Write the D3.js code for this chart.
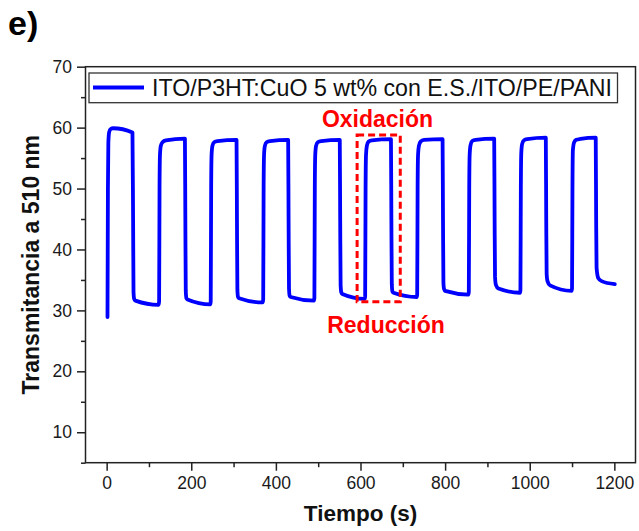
<!DOCTYPE html>
<html>
<head>
<meta charset="utf-8">
<script src="https://cdn.jsdelivr.net/npm/d3@7"></script>
<style>
  html, body { margin: 0; padding: 0; background: #fff; }
  svg { display: block; }
  text { font-family: Arial, "Liberation Sans", sans-serif; }
</style>
</head>
<body>
<svg id="chart" width="639" height="531"></svg>
<script>
// ---- Data ----
const seriesName = "ITO/P3HT:CuO 5 wt% con E.S./ITO/PE/PANI";
const timeS = [
  2, 3, 4, 6, 10, 15, 61,
  62.5, 63.5, 65, 68, 123,
  124, 125, 126, 128, 132, 140, 185,
  186, 187, 188.5, 191, 245,
  246, 247, 248, 250, 254, 262, 307,
  308, 309, 310.5, 313, 369,
  370, 371, 372, 374, 378, 386, 429,
  430, 431, 432.5, 435, 490,
  491, 492, 493, 495, 499, 507, 551,
  552, 553, 554.5, 557, 610,
  611, 612, 613, 615, 619, 627, 672,
  673, 674, 675.5, 678, 733,
  734, 735, 736, 738, 742, 750, 794,
  795, 796, 797.5, 800, 855,
  856, 857, 858, 860, 864, 872, 916,
  917, 918, 920, 926, 977,
  978, 979, 980, 982, 986, 994, 1038,
  1039, 1040, 1042, 1048, 1099,
  1100, 1101, 1102, 1105, 1110, 1120, 1156,
  1157, 1158, 1162, 1170, 1201
];
const transmittance = [
  28.9, 50.0, 57.5, 59.3, 59.8, 59.9, 59.2,
  45.0, 33.0, 31.9, 31.6, 30.9,
  31.5, 50.0, 55.5, 57.0, 57.6, 57.9, 58.2,
  45.0, 33.2, 32.0, 31.8, 31.0,
  31.5, 50.0, 55.5, 57.0, 57.6, 57.8, 58.0,
  45.0, 33.4, 32.2, 32.0, 31.3,
  31.8, 50.0, 55.5, 57.0, 57.6, 57.8, 58.0,
  45.0, 33.6, 32.4, 32.2, 31.6,
  32.0, 50.0, 55.5, 57.0, 57.6, 57.8, 58.0,
  45.0, 34.2, 33.0, 32.7, 31.9,
  32.3, 50.0, 55.5, 57.0, 57.7, 57.9, 58.1,
  45.0, 34.3, 33.1, 32.9, 32.2,
  32.6, 50.0, 55.5, 57.0, 57.7, 58.0, 58.1,
  45.0, 34.6, 33.5, 33.2, 32.6,
  33.0, 50.0, 55.5, 57.1, 57.8, 58.0, 58.2,
  45.0, 35.5, 34.2, 33.6, 32.9,
  33.3, 50.0, 55.8, 57.3, 57.9, 58.1, 58.35,
  45.0, 36.0, 34.8, 34.1, 33.2,
  33.6, 50.0, 56.3, 57.6, 58.0, 58.15, 58.35,
  45.0, 37.0, 35.3, 34.8, 34.3
];
const xTicks = [0, 200, 400, 600, 800, 1000, 1200];
const xMinorTicks = [100, 300, 500, 700, 900, 1100];
const yTicks = [10, 20, 30, 40, 50, 60, 70];
const yMinorTicks = [5, 15, 25, 35, 45, 55, 65];
const xDomain = [-50, 1250];
const yDomain = [5, 70];
// Highlighted cycle (dashed box) in data units
const boxTime = [592, 694];
const boxTrans = [31.4, 58.8];
const labelOx = "Oxidación";
const labelRed = "Reducción";
const panelLabel = "e)";
const xTitle = "Tiempo (s)";
const yTitle = "Transmitancia a 510 nm";

// ---- Layout ----
const svg = d3.select("#chart");
const L = 85.5, R = 635.5, T = 66.7, B = 462.7;
const x = d3.scaleLinear().domain(xDomain).range([L, R]);
const y = d3.scaleLinear().domain(yDomain).range([B, T]);
const axisColor = "#222";

// Frame
svg.append("rect")
  .attr("x", L).attr("y", T).attr("width", R - L).attr("height", B - T)
  .attr("fill", "none").attr("stroke", axisColor).attr("stroke-width", 1.5);

// Axes
const xAxis = svg.append("g").attr("transform", `translate(0,${B})`)
  .call(d3.axisBottom(x).tickValues(xTicks).tickSize(8).tickPadding(6).tickFormat(d3.format("d")));
const xMinor = svg.append("g").attr("transform", `translate(0,${B})`)
  .call(d3.axisBottom(x).tickValues(xMinorTicks).tickSize(4.5).tickFormat(""));
const yAxis = svg.append("g").attr("transform", `translate(${L},0)`)
  .call(d3.axisLeft(y).tickValues(yTicks).tickSize(8.5).tickPadding(5).tickFormat(d3.format("d")));
const yMinor = svg.append("g").attr("transform", `translate(${L},0)`)
  .call(d3.axisLeft(y).tickValues(yMinorTicks).tickSize(4.5).tickFormat(""));
[xAxis, xMinor, yAxis, yMinor].forEach(g => {
  g.select(".domain").remove();
  g.selectAll(".tick line").attr("stroke", axisColor).attr("stroke-width", 1.5);
  g.selectAll(".tick text").attr("fill", "#1a1a1a").style("font-size", "17.5px")
    .style("font-family", "Arial, 'Liberation Sans', sans-serif");
});

// Line
const pts = timeS.map((t, i) => [t, transmittance[i]]);
const line = d3.line().x(d => x(d[0])).y(d => y(d[1])).curve(d3.curveMonotoneX);
svg.append("path").datum(pts)
  .attr("d", line)
  .attr("fill", "none").attr("stroke", "#0000ff").attr("stroke-width", 3.8)
  .attr("stroke-linejoin", "round").attr("stroke-linecap", "round");

// Dashed box
svg.append("rect")
  .attr("x", x(boxTime[0])).attr("y", y(boxTrans[1]))
  .attr("width", x(boxTime[1]) - x(boxTime[0]))
  .attr("height", y(boxTrans[0]) - y(boxTrans[1]))
  .attr("fill", "none").attr("stroke", "#ff0000").attr("stroke-width", 3)
  .attr("stroke-dasharray", "7,4");

// Annotations
svg.append("text").attr("x", 377.5).attr("y", 126.5).attr("text-anchor", "middle")
  .attr("fill", "#ff0000").style("font-weight", "bold").style("font-size", "23px").text(labelOx);
svg.append("text").attr("x", 386).attr("y", 333).attr("text-anchor", "middle")
  .attr("fill", "#ff0000").style("font-weight", "bold").style("font-size", "23px").text(labelRed);

// Legend
svg.append("rect").attr("x", 89).attr("y", 73).attr("width", 528.5).attr("height", 29.7)
  .attr("fill", "#fff").attr("stroke", "#333").attr("stroke-width", 1.3);
svg.append("line").attr("x1", 93).attr("x2", 144).attr("y1", 87.5).attr("y2", 87.5)
  .attr("stroke", "#0000ff").attr("stroke-width", 4);
svg.append("text").attr("x", 152).attr("y", 95.7).attr("fill", "#111")
  .style("font-size", "23.2px").text(seriesName);

// Axis titles
svg.append("text").attr("x", (L + R) / 2).attr("y", 521).attr("text-anchor", "middle")
  .attr("fill", "#111").style("font-weight", "bold").style("font-size", "22.5px").text(xTitle);
svg.append("text").attr("transform", `translate(39,${(T + B) / 2}) rotate(-90)`)
  .attr("text-anchor", "middle").attr("fill", "#111")
  .style("font-weight", "bold").style("font-size", "23px").text(yTitle);

// Panel label
svg.append("text").attr("x", 8).attr("y", 35).attr("fill", "#000")
  .style("font-weight", "bold").style("font-size", "34px").text(panelLabel);
</script>
</body>
</html>
